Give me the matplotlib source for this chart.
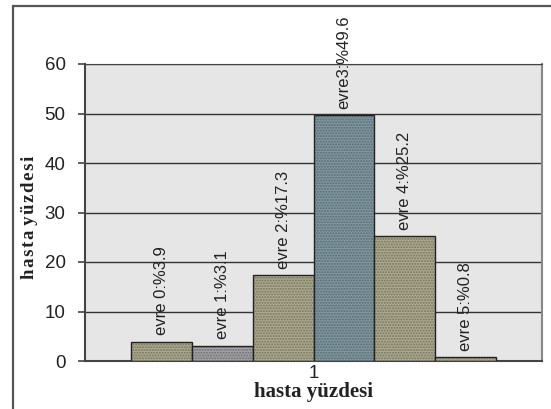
import numpy as np
import matplotlib.pyplot as plt
from matplotlib.patches import Rectangle

# stage labels and patient percentages
labels = ['evre 0:%3.9', 'evre 1:%3.1', 'evre 2:%17.3', 'evre3:%49.6', 'evre 4:%25.2', 'evre 5:%0.8']
values = [3.9, 3.1, 17.3, 49.6, 25.2, 0.8]
colors = ['#aeaa8e', '#a2a2a8', '#aeaa8e', '#7e98a4', '#aeaa8e', '#aeaa8e']
category = ['1']

fig = plt.figure(figsize=(5.51, 4.09), dpi=100)
ax = fig.add_axes([85/551, 1 - 361/409, 457/551, 297/409])
ax.set_facecolor('#e6e6e6')

# outer chart frame (cut by the image edge right and bottom)
fig.patches.append(Rectangle((13/551, -0.1), 1.2, 1 - 6/409 + 0.1, transform=fig.transFigure,
                             fill=False, edgecolor='#555555', linewidth=1.6, zorder=0))

n = len(values)
w = 0.8 / n
x = 1 + (np.arange(n) - (n - 1) / 2) * w
bars = ax.bar(x, values, width=w, color=colors, edgecolor='#222222', linewidth=1.0,
              hatch='......', zorder=3)
for b in bars:
    b._hatch_color = (0.25, 0.25, 0.22, 0.5)

for xi, v, lab in zip(x, values, labels):
    ax.text(xi, v + 1.3, lab, rotation=90, ha='center', va='bottom',
            fontsize=12, family='Liberation Sans', color='#222222', zorder=4)

ax.set_ylim(0, 60)
ax.set_xlim(0.5, 1.5)
ax.set_yticks(range(0, 61, 10))
ax.set_xticks([1])
ax.set_xticklabels(category)
ax.yaxis.grid(True, color='#333333', linewidth=1.0, zorder=0)
ax.set_axisbelow(True)
for lab in ax.get_xticklabels() + ax.get_yticklabels():
    lab.set_family('Liberation Sans')
    lab.set_fontsize(13.5)
    lab.set_color('#222222')
ax.tick_params(axis='y', direction='out', length=5, width=1.2, color='#444444', pad=9)
ax.tick_params(axis='x', length=0, pad=3)

ax.spines['left'].set_color('#444444')
ax.spines['left'].set_linewidth(1.5)
ax.spines['top'].set_color('#444444')
ax.spines['bottom'].set_color('#444444')
ax.spines['bottom'].set_linewidth(1.5)
ax.spines['right'].set_color('#888888')
ax.spines['right'].set_linewidth(1.5)

hs = '\u200a'
ylab = hs.join('hasta') + ' ' + hs.join('yüzdesi')
fig.text(30/551, 1 - 217/409, ylab, rotation=90, ha='center', va='center',
         family='Liberation Serif', fontweight='bold', fontsize=13.5, color='#222222')
fig.text(313/551, 1 - 392/409, 'hasta yüzdesi', ha='center', va='center',
         family='Liberation Serif', fontweight='bold', fontsize=15, color='#222222')

plt.savefig('out.png', dpi=100)
